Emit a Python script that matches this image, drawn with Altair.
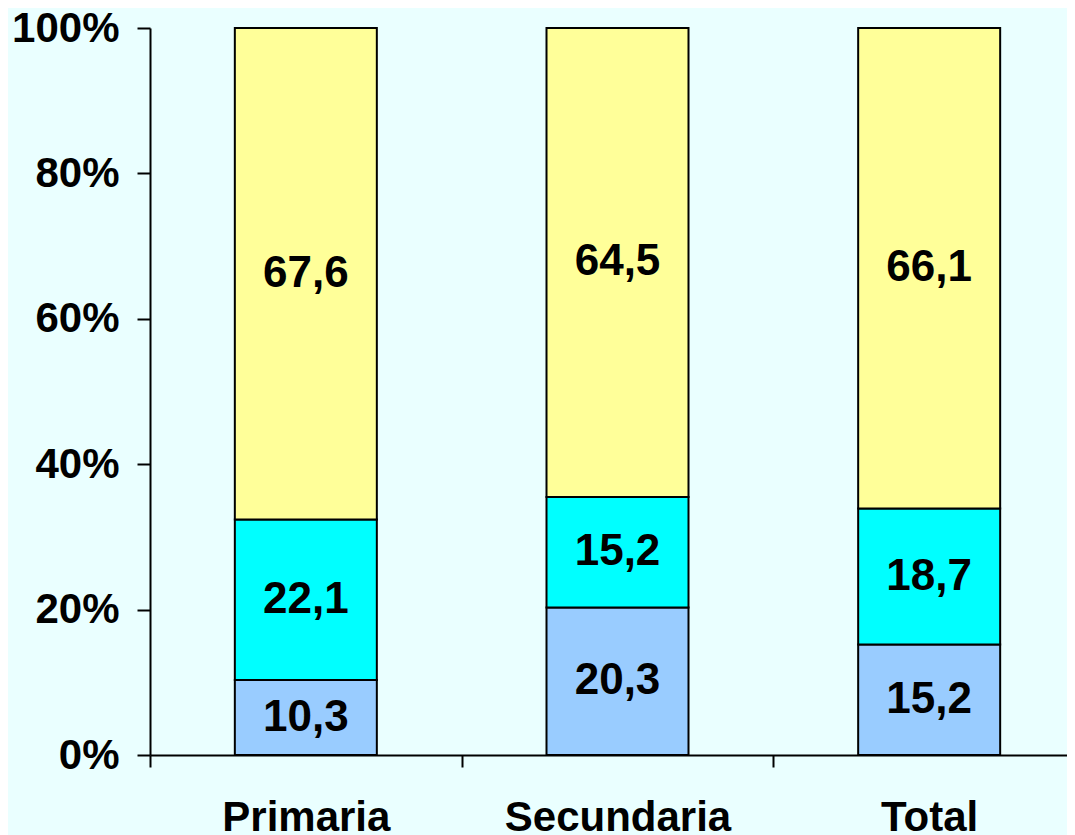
import altair as alt
import pandas as pd

categories = ["Primaria", "Secundaria", "Total"]
series = ["Serie 1", "Serie 2", "Serie 3"]  # bottom to top
v_bottom = [10.3, 20.3, 15.2]
v_middle = [22.1, 15.2, 18.7]
v_top = [67.6, 64.5, 66.1]
colors = ["#99CCFF", "#00FFFF", "#FFFF99"]
y_ticks = [0, 20, 40, 60, 80, 100]

rows = []
for i, c in enumerate(categories):
    for k, (s, vals) in enumerate(zip(series, [v_bottom, v_middle, v_top])):
        v = vals[i]
        rows.append({"category": c, "serie": s, "order": k, "value": v,
                     "label": f"{v:.1f}".replace(".", ",")})
df = pd.DataFrame(rows)

FONT = "Liberation Sans"

x_enc = alt.X(
    "category:N", sort=categories, title=None,
    scale=alt.Scale(range=[0, 935], paddingInner=0, paddingOuter=0),
    axis=alt.Axis(labelAngle=0, tickBand="extent", labelFont=FONT, labelFontSize=42,
                  labelFontWeight="bold", labelColor="black", labelPadding=30,
                  labelLimit=0,
                  tickSize=12, tickWidth=2, tickColor="black",
                  domainColor="black", domainWidth=2),
)

bars = alt.Chart(df).mark_bar(size=142, stroke="black", strokeWidth=2).encode(
    x=x_enc,
    y=alt.Y("value:Q", stack="zero", title=None,
            scale=alt.Scale(domain=[0, 100], nice=False),
            axis=alt.Axis(values=y_ticks, labelExpr="datum.value + '%'", grid=False,
                          labelFont=FONT, labelFontSize=42, labelFontWeight="bold",
                          labelColor="black", labelPadding=18, tickSize=13, tickWidth=2,
                          tickColor="black", domainColor="black", domainWidth=2)),
    color=alt.Color("serie:N", scale=alt.Scale(domain=series, range=colors), legend=None),
    order=alt.Order("order:Q"),
)

text = alt.Chart(df).transform_stack(
    stack="value", as_=["y0", "y1"], groupby=["category"],
    sort=[alt.SortField("order")]
).transform_calculate(
    mid="(datum.y0 + datum.y1) / 2"
).mark_text(font=FONT, fontSize=44, fontWeight="bold", color="black",
            baseline="middle", align="center").encode(
    x=alt.X("category:N", sort=categories),
    y=alt.Y("mid:Q"),
    text="label:N",
)

chart = alt.layer(bars, text).properties(
    width=917, height=727,
    autosize=alt.AutoSizeParams(type="none"),
    padding={"left": 142, "top": 20, "right": 0, "bottom": 80},
    background="#EAFFFF",
).configure_view(stroke=None)

chart.save("out.html", embed_options={"renderer": "svg", "actions": False})
